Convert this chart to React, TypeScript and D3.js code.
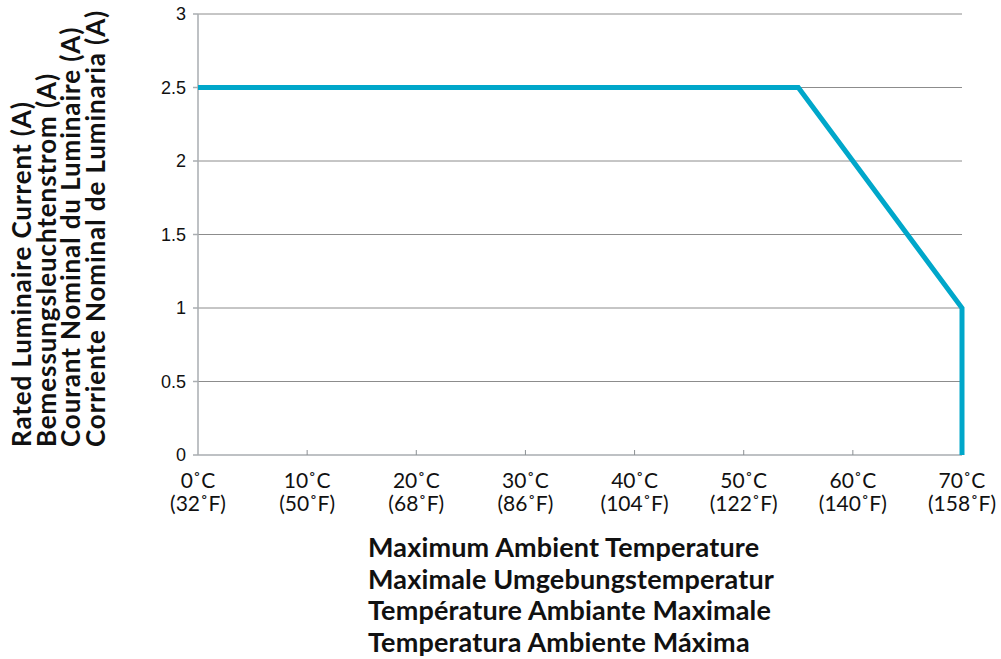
import React, { useRef, useEffect } from 'react'
import * as d3 from 'd3'

// derating curve
const temps = [0, 55, 70, 70]
const current = [2.5, 2.5, 1, 0]

const xTicks = [0, 10, 20, 30, 40, 50, 60, 70]
const xTickC = ['0˚C', '10˚C', '20˚C', '30˚C', '40˚C', '50˚C', '60˚C', '70˚C']
const xTickF = ['(32˚F)', '(50˚F)', '(68˚F)', '(86˚F)', '(104˚F)', '(122˚F)', '(140˚F)', '(158˚F)']
const yTicks = [0, 0.5, 1, 1.5, 2, 2.5, 3]

const yTitle = [
  'Rated Luminaire Current (A)',
  'Bemessungsleuchtenstrom (A)',
  'Courant Nominal du Luminaire (A)',
  'Corriente Nominal de Luminaria (A)',
]
const xTitle = [
  'Maximum Ambient Temperature',
  'Maximale Umgebungstemperatur',
  'Température Ambiante Maximale',
  'Temperatura Ambiente Máxima',
]

const W = 1001
const H = 659

function App() {
  const ref = useRef<SVGSVGElement>(null)

  useEffect(() => {
    const svg = d3.select(ref.current)
    svg.selectAll('*').remove()

    const x = d3.scaleLinear().domain([0, 70]).range([198, 962])
    const y = d3.scaleLinear().domain([0, 3]).range([455, 14])

    // grid
    svg.append('g')
      .selectAll('line')
      .data(yTicks.filter(d => d > 0))
      .join('line')
      .attr('x1', x(0)).attr('x2', x(70))
      .attr('y1', d => y(d)).attr('y2', d => y(d))
      .attr('stroke', '#8c8c8c').attr('stroke-width', 1)

    // y axis
    const yAxis = svg.append('g')
    yAxis.append('line')
      .attr('x1', x(0)).attr('x2', x(0))
      .attr('y1', y(0)).attr('y2', y(3))
      .attr('stroke', '#a9adb1').attr('stroke-width', 1.5)
    yAxis.selectAll('.yt')
      .data(yTicks)
      .join('line')
      .attr('class', 'yt')
      .attr('x1', x(0) - 5).attr('x2', x(0))
      .attr('y1', d => y(d)).attr('y2', d => y(d))
      .attr('stroke', '#a9adb1').attr('stroke-width', 1.5)
    yAxis.selectAll('text')
      .data(yTicks)
      .join('text')
      .attr('x', 186)
      .attr('y', d => y(d))
      .attr('dy', '0.35em')
      .attr('text-anchor', 'end')
      .attr('font-family', 'Liberation Sans, Arial, sans-serif')
      .attr('font-size', 18)
      .attr('fill', '#111')
      .text(d => String(d))

    // x axis
    const xAxis = svg.append('g')
    xAxis.append('line')
      .attr('x1', x(0)).attr('x2', x(70))
      .attr('y1', y(0)).attr('y2', y(0))
      .attr('stroke', '#a9adb1').attr('stroke-width', 1.5)
    xAxis.selectAll('.xt')
      .data(xTicks.slice(1, -1))
      .join('line')
      .attr('class', 'xt')
      .attr('x1', d => x(d)).attr('x2', d => x(d))
      .attr('y1', y(0)).attr('y2', y(0) - 5)
      .attr('stroke', '#8c9094').attr('stroke-width', 1)
    const lbl = xAxis.selectAll('text')
      .data(xTicks)
      .join('text')
      .attr('text-anchor', 'middle')
      .attr('font-family', 'Lato, sans-serif')
      .attr('font-size', 21)
      .attr('fill', '#111')
    lbl.append('tspan')
      .attr('x', d => x(d)).attr('y', 488)
      .text((d, i) => xTickC[i])
    lbl.append('tspan')
      .attr('x', d => x(d)).attr('y', 511)
      .text((d, i) => xTickF[i])

    // curve
    const line = d3.line<number>()
      .x((d, i) => x(temps[i]))
      .y(d => y(d))
    svg.append('path')
      .datum(current)
      .attr('d', line)
      .attr('fill', 'none')
      .attr('stroke', '#00a7ca')
      .attr('stroke-width', 5)
      .attr('stroke-linejoin', 'miter')

    // titles
    svg.append('g')
      .selectAll('text')
      .data(yTitle)
      .join('text')
      .attr('transform', (d, i) => `translate(${31 + i * 24.5},447) rotate(-90)`)
      .attr('font-family', 'Lato, sans-serif')
      .attr('font-weight', 'bold')
      .attr('font-size', 26)
      .attr('letter-spacing', 0.9)
      .attr('fill', '#111')
      .text(d => d)

    svg.append('g')
      .selectAll('text')
      .data(xTitle)
      .join('text')
      .attr('x', 368)
      .attr('y', (d, i) => 557 + i * 31.5)
      .attr('font-family', 'Lato, sans-serif')
      .attr('font-weight', 'bold')
      .attr('font-size', 27)
      .attr('letter-spacing', 0.15)
      .attr('fill', '#111')
      .text(d => d)
  }, [])

  return (
    <svg ref={ref} width={W} height={H}
      style={{ position: 'absolute', left: 0, top: 0, background: '#fff' }} />
  )
}

export default App
